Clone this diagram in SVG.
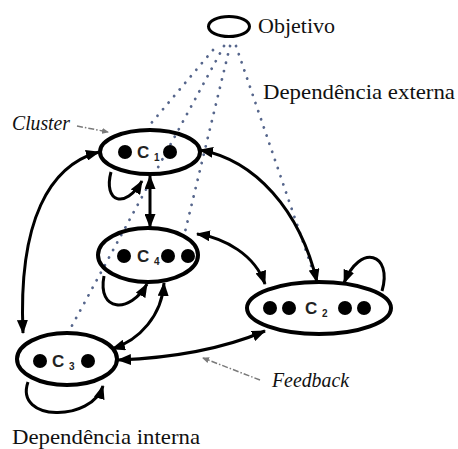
<svg xmlns="http://www.w3.org/2000/svg" width="458" height="449" viewBox="0 0 458 449">
  <style>
    .node { fill: none; stroke: #000; stroke-width: 4; }
    .dot { fill: #000; }
    .lbl { font-family: "Liberation Sans", Arial, sans-serif; font-weight: bold; font-size: 17px; fill: #222; }
    .sub { font-family: "Liberation Sans", Arial, sans-serif; font-weight: bold; font-size: 10px; fill: #222; }
    .txt { font-family: "Liberation Serif", "Times New Roman", serif; font-size: 22px; fill: #111; }
    .ital { font-family: "Liberation Serif", "Times New Roman", serif; font-style: italic; font-size: 20px; fill: #111; }
    .edge { fill: none; stroke: #000; stroke-width: 3; }
    .dep { fill: none; stroke: #56668c; stroke-width: 2.8; stroke-linecap: round; stroke-dasharray: 0.1 8.5; }
    .ptr { fill: none; stroke: #7a7a7a; stroke-width: 1.5; stroke-dasharray: 6 2 1.5 2; }
  </style>
  <defs>
    <marker id="ah" viewBox="0 0 14 11" refX="13" refY="5.5" markerWidth="14" markerHeight="11" markerUnits="userSpaceOnUse" orient="auto-start-reverse">
      <path d="M0,0 L14,5.5 L0,11 Z" fill="#000"/>
    </marker>
    <marker id="ahs" viewBox="0 0 7 6" refX="6" refY="3" markerWidth="7" markerHeight="6" markerUnits="userSpaceOnUse" orient="auto">
      <path d="M0,0 L7,3 L0,6 Z" fill="#7a7a7a"/>
    </marker>
  </defs>

  <!-- external dependencies from the goal -->
  <g id="external-deps">
    <line class="dep" x1="213" y1="50" x2="148" y2="127"/>
    <line class="dep" x1="224" y1="46" x2="68" y2="333"/>
    <line class="dep" x1="230" y1="46" x2="185" y2="232"/>
    <line class="dep" x1="236" y1="46" x2="316" y2="280"/>
  </g>

  <!-- connectors between clusters -->
  <g id="connectors">
    <path class="edge" d="M150,176 L150,227" marker-start="url(#ah)" marker-end="url(#ah)"/>
    <path class="edge" d="M99,152 C50,165 18,220 23,333" marker-start="url(#ah)" marker-end="url(#ah)"/>
    <path class="edge" d="M200,150 C255,160 300,210 317,282" marker-start="url(#ah)" marker-end="url(#ah)"/>
    <path class="edge" d="M197,234 C225,238 255,255 265,284" marker-start="url(#ah)" marker-end="url(#ah)"/>
    <path class="edge" d="M164,283 C162,315 140,340 112,349" marker-start="url(#ah)" marker-end="url(#ah)"/>
    <path class="edge" d="M118,360 C170,358 220,350 265,331" marker-start="url(#ah)" marker-end="url(#ah)"/>
    <!-- self loops (internal dependence) -->
    <path class="edge" d="M111,172 C103,202 125,210 142,181" marker-end="url(#ah)"/>
    <path class="edge" d="M104,276 C97,312 130,314 147,284" marker-end="url(#ah)"/>
    <path class="edge" d="M28,382 C14,422 92,422 103,386" marker-end="url(#ah)"/>
    <path class="edge" d="M382,291 C393,253 360,243 344,283" marker-end="url(#ah)"/>
  </g>

  <!-- goal -->
  <g id="objetivo">
    <ellipse cx="229" cy="26.5" rx="20.5" ry="10" fill="none" stroke="#000" stroke-width="3"/>
    <text class="txt" x="258" y="33" textLength="77" lengthAdjust="spacingAndGlyphs">Objetivo</text>
  </g>

  <g id="c1">
    <ellipse class="node" cx="150" cy="152" rx="50" ry="22"/>
    <circle class="dot" cx="125" cy="152" r="7"/>
    <circle class="dot" cx="170" cy="152" r="7"/>
    <text class="lbl" x="137" y="158">C</text>
    <text class="sub" x="154" y="161">1</text>
  </g>

  <g id="c4">
    <ellipse class="node" cx="148" cy="255" rx="50" ry="27"/>
    <circle class="dot" cx="124" cy="256" r="7"/>
    <circle class="dot" cx="168" cy="256" r="7"/>
    <circle class="dot" cx="188" cy="256" r="7"/>
    <text class="lbl" x="137" y="262">C</text>
    <text class="sub" x="154" y="265">4</text>
  </g>

  <g id="c2">
    <ellipse class="node" cx="319" cy="308" rx="72" ry="26"/>
    <circle class="dot" cx="270" cy="308" r="7"/>
    <circle class="dot" cx="289" cy="308" r="7"/>
    <circle class="dot" cx="345" cy="308" r="7"/>
    <circle class="dot" cx="364" cy="308" r="7"/>
    <text class="lbl" x="305" y="314">C</text>
    <text class="sub" x="322" y="317">2</text>
  </g>

  <g id="c3">
    <ellipse class="node" cx="67" cy="359" rx="50" ry="26"/>
    <circle class="dot" cx="40" cy="361" r="7"/>
    <circle class="dot" cx="88" cy="361" r="7"/>
    <text class="lbl" x="52" y="367">C</text>
    <text class="sub" x="69" y="370">3</text>
  </g>

  <!-- annotations -->
  <g id="annotations">
    <text class="txt" x="263" y="99" textLength="192" lengthAdjust="spacingAndGlyphs">Dependência externa</text>
    <text class="txt" x="12" y="444" textLength="188" lengthAdjust="spacingAndGlyphs">Dependência interna</text>
    <text class="ital" x="12" y="130" textLength="58" lengthAdjust="spacingAndGlyphs">Cluster</text>
    <line class="ptr" x1="77" y1="126" x2="108" y2="132" marker-end="url(#ahs)"/>
    <text class="ital" x="272" y="387" textLength="77" lengthAdjust="spacingAndGlyphs">Feedback</text>
    <line class="ptr" x1="260" y1="380" x2="203" y2="358" marker-end="url(#ahs)"/>
  </g>
</svg>
